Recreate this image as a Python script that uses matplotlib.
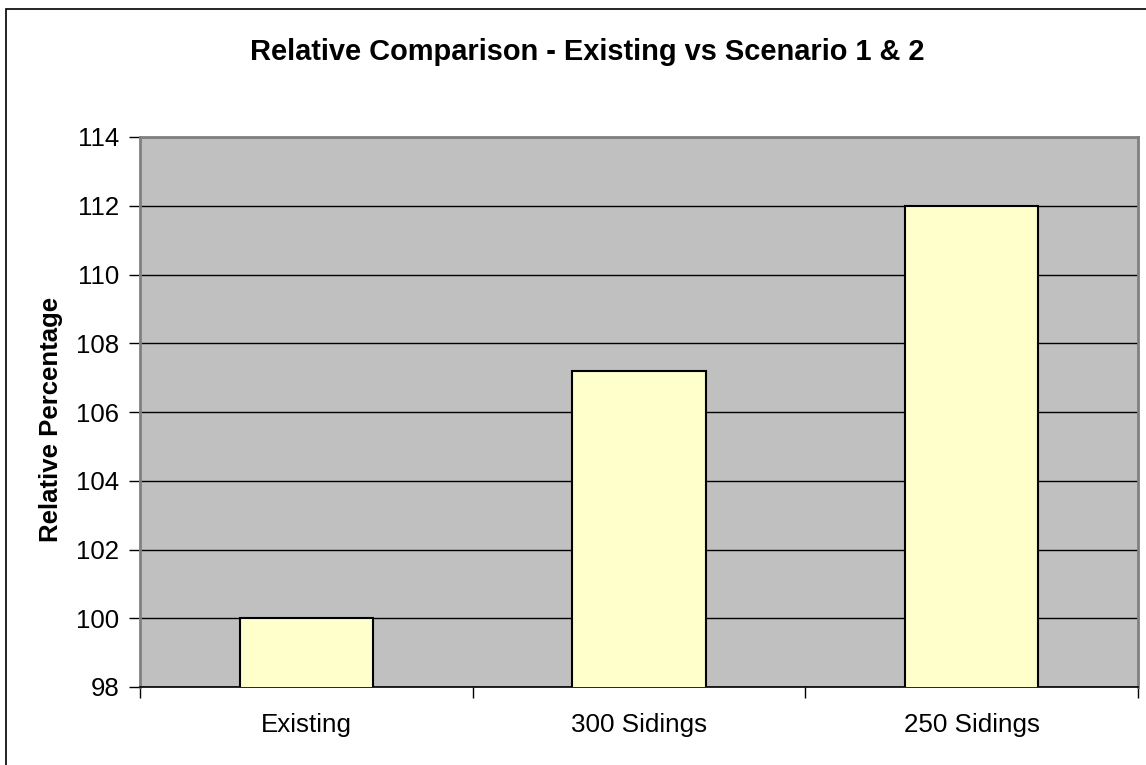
import matplotlib
matplotlib.use("Agg")
import matplotlib.pyplot as plt
from matplotlib.patches import Rectangle
from matplotlib.ticker import FixedLocator

plt.rcParams['font.family'] = ['Liberation Sans', 'DejaVu Sans']

categories = ["Existing", "300 Sidings", "250 Sidings"]
values = [100.0, 107.2, 112.0]
y_ticks = [98, 100, 102, 104, 106, 108, 110, 112, 114]

W, H = 1146, 765
fig = plt.figure(figsize=(W / 100, H / 100), dpi=100)
fig.patch.set_facecolor("white")

# Chart-area border (open at right and bottom edges)
fig.patches.append(Rectangle((6 / W, -0.05), 1.1, 1 - 9 / H + 0.05,
                             transform=fig.transFigure, fill=False,
                             edgecolor="black", linewidth=1.2, zorder=0))

ax = fig.add_axes([140 / W, 78 / H, 998 / W, 550 / H])
ax.set_facecolor("#C0C0C0")

x = list(range(len(categories)))
ax.bar(x, values, width=0.4, bottom=0, color="#FFFFCC",
       edgecolor="black", linewidth=1.5, zorder=3)

ax.set_ylim(98, 114)
ax.set_xlim(-0.5, len(categories) - 0.5)
ax.set_yticks(y_ticks)
ax.set_yticklabels([str(t) for t in y_ticks], fontsize=18.5)
ax.yaxis.grid(True, color="black", linewidth=1.0, zorder=1)
ax.set_axisbelow(True)

ax.set_xticks(x)
ax.set_xticklabels(categories, fontsize=18.7)
ax.tick_params(axis="x", which="major", length=0, pad=19)
ax.xaxis.set_minor_locator(FixedLocator([i - 0.5 for i in range(len(categories) + 1)]))
ax.tick_params(axis="x", which="minor", length=8, width=1, color="black")
ax.tick_params(axis="y", length=8, width=1, color="black", pad=7)

for side in ("top", "right", "left"):
    ax.spines[side].set_color("#808080")
    ax.spines[side].set_linewidth(2)
ax.spines["bottom"].set_color("black")
ax.spines["bottom"].set_linewidth(1.2)

fig.text(587 / W, 1 - 52 / H, "Relative Comparison - Existing vs Scenario 1 & 2",
         ha="center", va="center", fontsize=20.9, fontweight="bold")
fig.text(51 / W, 1 - 419 / H, "Relative Percentage", rotation=90,
         ha="center", va="center", fontsize=18.5, fontweight="bold")

fig.savefig("out.png", dpi=100)
